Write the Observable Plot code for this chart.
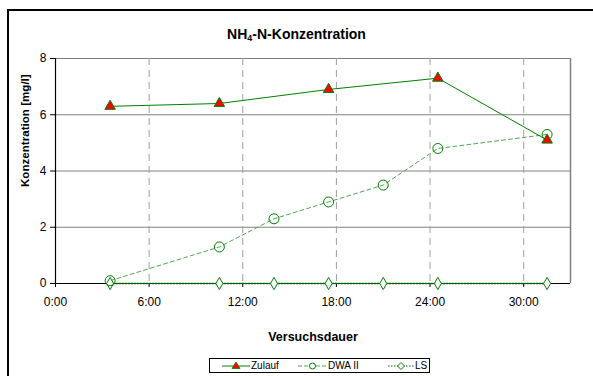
<!DOCTYPE html>
<html>
<head>
<meta charset="utf-8">
<script src="https://cdn.jsdelivr.net/npm/d3@7"></script>
<script src="https://cdn.jsdelivr.net/npm/@observablehq/plot@0.6"></script>
<style>
  html, body { margin: 0; padding: 0; background: #fff; }
  #wrap { position: relative; width: 593px; height: 376px; overflow: hidden; font-family: "Liberation Sans", Arial, sans-serif; }
  #frame { position: absolute; left: 7px; top: 9px; width: 620px; height: 420px; border: 2.5px solid #000; box-sizing: border-box; }
  #title { position: absolute; left: 0; width: 593px; top: 26px; text-align: center; font-weight: bold; font-size: 14px; }
  #title sub { font-size: 9px; vertical-align: -2px; }
  #legend { position: absolute; left: 209px; top: 358px; width: 221px; height: 15px; border: 1px solid #000; box-sizing: border-box; background: #fff; font-size: 10px; }
  #legend .it { display: flex; align-items: center; position: absolute; top: 0; height: 13px; }
  #legend svg { display: block; }
  #chart { position: absolute; left: 0; top: 0; }
</style>
</head>
<body>
<div id="wrap">
  <div id="frame"></div>
  <div id="chart"></div>
  <div id="title">NH<sub>4</sub>-N-Konzentration</div>
  <div id="legend"></div>
</div>
<script>
// Data (hours since start, concentration in mg/l)
const zulaufTimes = [3.5, 10.5, 17.5, 24.5, 31.5];
const zulaufValues = [6.3, 6.4, 6.9, 7.3, 5.1];
const dwaTimes = [3.5, 10.5, 14, 17.5, 21, 24.5, 31.5];
const dwaValues = [0.1, 1.3, 2.3, 2.9, 3.5, 4.8, 5.3];
const lsTimes = [3.5, 10.5, 14, 17.5, 21, 24.5, 31.5];
const lsValues = [0, 0, 0, 0, 0, 0, 0];
const xTicks = [0, 6, 12, 18, 24, 30];
const xTickLabels = ["0:00", "6:00", "12:00", "18:00", "24:00", "30:00"];
const yTicks = [0, 2, 4, 6, 8];
const seriesNames = ["Zulauf", "DWA II", "LS"];
const yLabel = "Konzentration [mg/l]";
const xLabel = "Versuchsdauer";

const zulauf = zulaufTimes.map((t, i) => ({t, v: zulaufValues[i]}));
const dwa = dwaTimes.map((t, i) => ({t, v: dwaValues[i]}));
const ls = lsTimes.map((t, i) => ({t, v: lsValues[i]}));

const green = "#008000";
const chart = Plot.plot({
  width: 593,
  height: 376,
  marginLeft: 55,
  marginRight: 23,
  marginTop: 58,
  marginBottom: 93,
  style: { fontFamily: "Liberation Sans, Arial, sans-serif", fontSize: "12px", background: "transparent", color: "#000" },
  x: { type: "linear", domain: [0, 33] },
  y: { domain: [0, 8] },
  marks: [
    Plot.ruleY(yTicks.filter(d => d > 0), { stroke: "#808080", strokeWidth: 1, strokeOpacity: 1 }),
    Plot.ruleX(xTicks.filter(d => d > 0), { stroke: "#a0a0a0", strokeWidth: 1, strokeDasharray: "7,5", strokeOpacity: 1 }),
    Plot.ruleX([33], { stroke: "#808080", strokeWidth: 1.5 }),
    Plot.ruleX([0], { stroke: "#000", strokeWidth: 1.2 }),
    Plot.ruleY([0], { stroke: "#000", strokeWidth: 1.2 }),
    Plot.axisY({ ticks: yTicks, tickSize: 5, tickPadding: 4, label: null, fontSize: 12 }),
    Plot.axisX({ ticks: xTicks, tickSize: 4, tickPadding: 10, label: null, fontSize: 12,
      tickFormat: d => xTickLabels[xTicks.indexOf(d)] }),
    Plot.text([yLabel], { frameAnchor: "left", rotate: -90, dx: -30, dy: 16, fontWeight: "bold", fontSize: 11.6 }),
    Plot.text([xLabel], { frameAnchor: "bottom", dy: 57, fontWeight: "bold", fontSize: 12.5 }),
    Plot.line(dwa, { x: "t", y: "v", stroke: "#52a852", strokeWidth: 1, strokeDasharray: "4,3" }),
    Plot.line(ls, { x: "t", y: "v", stroke: "#006400", strokeWidth: 1.6, strokeDasharray: "1.5,1.5" }),
    Plot.line(zulauf, { x: "t", y: "v", stroke: green, strokeWidth: 1 }),
    Plot.dot(ls, { x: "t", y: "v", symbol: "diamond", r: 3.7, stroke: green, fill: "white", strokeWidth: 1 }),
    Plot.dot(dwa, { x: "t", y: "v", symbol: "circle", r: 5, stroke: green, fill: "none", strokeWidth: 1 }),
    Plot.dot(zulauf, { x: "t", y: "v", symbol: "triangle", r: 3.9, stroke: green, fill: "#ff0000", strokeWidth: 1 })
  ]
});
document.getElementById("chart").appendChild(chart);

// Legend
const legend = document.getElementById("legend");
const items = [
  { name: seriesNames[0], left: 12, width: 28, dash: null, color: green, sym: "tri" },
  { name: seriesNames[1], left: 88, width: 29, dash: "4,2", color: "#52a852", sym: "circ" },
  { name: seriesNames[2], left: 178, width: 26, dash: "1.5,1.5", color: "#006400", sym: "dia" }
];
items.forEach(it => {
  const div = document.createElement("div");
  div.className = "it";
  div.style.left = it.left + "px";
  const c = it.width / 2;
  let symbol = "";
  if (it.sym === "tri") symbol = `<path d="M${c},2 L${c+4},8.5 L${c-4},8.5 Z" fill="#ff0000" stroke="${green}" stroke-width="0.8"/>`;
  if (it.sym === "circ") symbol = `<circle cx="${c}" cy="6" r="3" fill="white" stroke="${green}" stroke-width="1"/>`;
  if (it.sym === "dia") symbol = `<path d="M${c},2.5 L${c+3.5},6 L${c},9.5 L${c-3.5},6 Z" fill="white" stroke="${green}" stroke-width="1"/>`;
  div.innerHTML = `<svg width="${it.width}" height="12"><line x1="0" x2="${it.width}" y1="6" y2="6" stroke="${it.color}" stroke-width="1" ${it.dash ? `stroke-dasharray="${it.dash}"` : ""}/>${symbol}</svg><span style="margin-left:1px">${it.name}</span>`;
  legend.appendChild(div);
});
</script>
</body>
</html>
